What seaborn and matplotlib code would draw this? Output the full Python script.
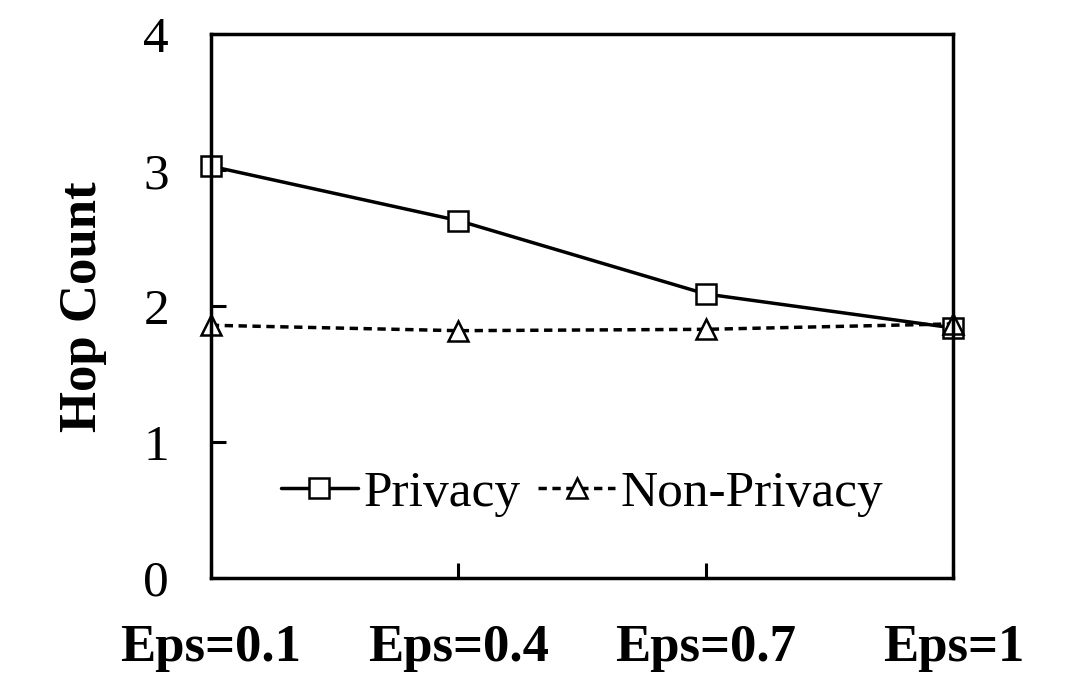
import matplotlib
matplotlib.use("Agg")
import matplotlib.pyplot as plt
import seaborn as sns
import pandas as pd

categories = ["Eps=0.1", "Eps=0.4", "Eps=0.7", "Eps=1"]
privacy = [3.03, 2.63, 2.09, 1.84]
non_privacy = [1.86, 1.82, 1.83, 1.87]
yticks = [0, 1, 2, 3, 4]

sns.set_style("ticks")
plt.rcParams["font.family"] = ["Liberation Serif", "DejaVu Serif"]
plt.rcParams["text.color"] = "black"
plt.rcParams["xtick.color"] = "black"
plt.rcParams["ytick.color"] = "black"
plt.rcParams["axes.labelcolor"] = "black"

df = pd.DataFrame({
    "x": list(range(len(categories))) * 2,
    "y": privacy + non_privacy,
    "series": ["Privacy"] * len(categories) + ["Non-Privacy"] * len(categories),
})

fig = plt.figure(figsize=(10.7, 6.73), dpi=100)
ax = fig.add_axes([0.197, 0.141, 0.694, 0.808])

sns.lineplot(data=df, x="x", y="y", hue="series", style="series",
             palette={"Privacy": "black", "Non-Privacy": "black"},
             markers={"Privacy": "s", "Non-Privacy": "^"},
             dashes={"Privacy": "", "Non-Privacy": (2.4, 1.6)},
             markersize=15, markerfacecolor="white", markeredgecolor="black",
             markeredgewidth=1.8, linewidth=2.5, ax=ax, sort=False)
for ln in ax.lines:
    ln.set_clip_on(False)

ax.set_xlim(0, 3)
ax.set_ylim(0, 4)
ax.set_xticks(range(len(categories)))
ax.set_xticklabels(categories, fontsize=38, fontweight="bold")
ax.set_yticks(yticks)
ax.set_yticklabels([str(t) for t in yticks], fontsize=37)
ax.tick_params(axis="both", direction="in", length=11, width=2.2, pad=30)
ax.tick_params(axis="x", pad=33)
for s in ax.spines.values():
    s.set_linewidth(2.5)
    s.set_color("black")
ax.set_xlabel("")
ax.set_ylabel("Hop Count", fontsize=38, fontweight="bold", labelpad=26)

leg = ax.legend(loc="center", bbox_to_anchor=(0.5, 0.155), ncol=2, frameon=False,
                fontsize=37, handlelength=1.5, handletextpad=0.1, columnspacing=0.35,
                borderaxespad=0)

fig.savefig("out.png", dpi=100)
